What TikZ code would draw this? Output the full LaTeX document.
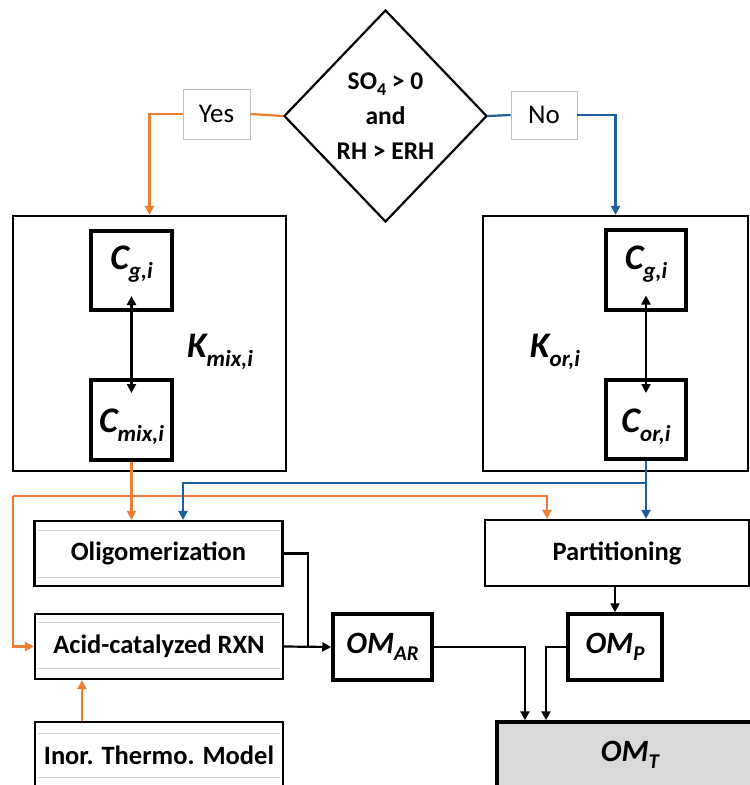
\documentclass[tikz,border=0pt]{standalone}
\usepackage{fontspec}
\setmainfont{Carlito}
\usetikzlibrary{arrows.meta,shapes.geometric}
\definecolor{myorange}{HTML}{ED7D31}
\definecolor{myblue}{HTML}{1F5F9E}
\newcommand\lowsub[3]{\raisebox{-#1}{\fontsize{#2}{#2}\selectfont #3}}
\tikzset{
  bigbox/.style={draw, line width=2.2pt, inner sep=0pt},
  cbox/.style={draw, line width=4pt, inner sep=0pt},
  stepbox/.style={draw, line width=2.2pt, inner sep=0pt, font=\fontsize{26.5}{30}\selectfont\bfseries},
  ombox/.style={draw, line width=3.5pt, inner sep=0pt, font=\fontsize{31}{34}\selectfont\bfseries\itshape},
  labbox/.style={draw=black!25, line width=0.8pt, inner sep=0pt, font=\fontsize{27}{30}\selectfont},
  clab/.style={font=\fontsize{36}{40}\selectfont\bfseries\itshape, inner sep=0pt},
  oline/.style={draw=myorange, line width=2.2pt},
  bline/.style={draw=myblue, line width=2.2pt},
  kline/.style={draw=black, line width=2.2pt},
  tip/.style={-{Triangle[length=9pt,width=9pt]}},
  graysep/.style={draw=black!18, line width=1pt}
}
\begin{document}
\begin{tikzpicture}[x=1pt,y=-1pt]
\clip (0,0) rectangle (750,785);
\fill[white] (0,0) rectangle (750,785);
% decision
\node[diamond, draw, line width=2.2pt, minimum width=203pt, minimum height=212pt, inner sep=0pt] (dec) at (385.5,116) {};
\node[align=center, font=\fontsize{25.5}{35}\selectfont\bfseries, inner sep=0pt] (dectext) at (385.5,116) {SO\lowsub{6pt}{18}{4} > 0\\and\\RH > ERH};
\node[labbox, minimum width=67pt, minimum height=50pt] (yes) at (216.5,114) {Yes};
\node[labbox, minimum width=66pt, minimum height=48pt] (no) at (544,115) {No};
% big boxes
\node[bigbox, minimum width=273pt, minimum height=255pt] (kmix) at (149.5,343.5) {};
\node[bigbox, minimum width=265pt, minimum height=255pt] (kor) at (615.5,343.5) {};
\node[cbox, minimum width=81pt, minimum height=79pt] (cg1) at (131.5,270.5) {};
\node[cbox, minimum width=81pt, minimum height=80pt] (cmix) at (131.5,420) {};
\node[cbox, minimum width=80pt, minimum height=80pt] (cg2) at (646,269.5) {};
\node[cbox, minimum width=80pt, minimum height=79pt] (cor) at (646,419.5) {};
\node[clab] (cg1t) at (131.5,264) {C\lowsub{9pt}{23}{g,i}};
\node[clab] (cmixt) at (131.5,427) {C\lowsub{9pt}{23}{mix,i}};
\node[clab] (cg2t) at (646,264) {C\lowsub{9pt}{23}{g,i}};
\node[clab] (cort) at (646,427) {C\lowsub{9pt}{23}{or,i}};
\node[clab] (kmixt) at (220,352) {K\lowsub{9pt}{23}{mix,i}};
\node[clab] (kort) at (555,352) {K\lowsub{9pt}{23}{or,i}};
% step boxes
\node[stepbox, minimum width=248pt, minimum height=65pt] (olig) at (158.5,553.5) {Oligomerization};
\node[stepbox, minimum width=248pt, minimum height=65pt] (acid) at (159,646.5) {Acid-catalyzed RXN};
\node[stepbox, minimum width=248pt, minimum height=80pt] (inor) at (159,762) {};
\node[font=\fontsize{26.5}{30}\selectfont\bfseries, inner sep=0pt] (inort) at (159,755) {Inor. Thermo. Model};
\node[stepbox, minimum width=264pt, minimum height=66pt] (part) at (617,553) {Partitioning};
\node[ombox, minimum width=99pt, minimum height=66pt] (omar) at (382.5,647) {OM\lowsub{7pt}{21}{AR}};
\node[ombox, minimum width=94pt, minimum height=66pt] (omp) at (615,647) {OM\lowsub{7pt}{21}{P}};
\node[ombox, fill=black!15, minimum width=263pt, minimum height=80pt] (omt) at (628.5,762) {};
\node[font=\fontsize{31}{34}\selectfont\bfseries\itshape, inner sep=0pt] (omtt) at (630,755) {OM\lowsub{7pt}{21}{T}};
% faint inner lines
\draw[graysep] (38,530) -- (280,530) (38,577) -- (280,577);
\draw[graysep] (38,622) -- (280,622) (38,668) -- (280,668);
\draw[graysep] (38,733) -- (280,733) (38,777) -- (280,777);
% yes / no connectors
\draw[oline] (dec.west) -- (yes.east);
\draw[oline, tip] (yes.west) -| (kmix.north);
\draw[bline] (dec.east) -- (no.west);
\draw[bline, tip] (no.east) -| (kor.north);
% equilibrium arrows
\draw[kline, {Triangle[length=9pt,width=9pt]}-{Triangle[length=9pt,width=9pt]}] ([yshift=16pt]cg1.south) -- ([yshift=-15pt]cmix.north);
\draw[kline, {Triangle[length=9pt,width=9pt]}-{Triangle[length=9pt,width=9pt]}] ([yshift=16pt]cg2.south) -- ([yshift=-15pt]cor.north);
% orange bus
\coordinate (obl) at (13,496);
\coordinate (obr) at (547,496);
\draw[oline, tip] (cmix.south) -- (cmix.south |- olig.north);
\draw[oline, tip] (obl) -- (obr) -- (obr |- part.north);
\draw[oline, tip] (obl) |- (acid.west);
\draw[oline, tip] (inor.north -| 82,0) -- (acid.south -| 82,0);
% blue bus
\coordinate (bbl) at (183,483);
\draw[bline, tip] (cor.south) -- (cor.south |- part.north);
\draw[bline, tip] (cor.south |- bbl) -- (bbl) -- (bbl |- olig.north);
% black connectors
\coordinate (jn) at (308,647);
\draw[kline] (olig.east) -| (jn);
\draw[kline, tip] (acid.east) -- (omar.west);
\draw[kline, tip] (omp.north |- part.south) -- (omp.north);
\coordinate (t1) at (525,0);
\coordinate (t2) at (546,0);
\draw[kline, tip] (omar.east) -| (t1 |- omt.north);
\draw[kline, tip] (omp.west) -| (t2 |- omt.north);
\end{tikzpicture}
\end{document}
